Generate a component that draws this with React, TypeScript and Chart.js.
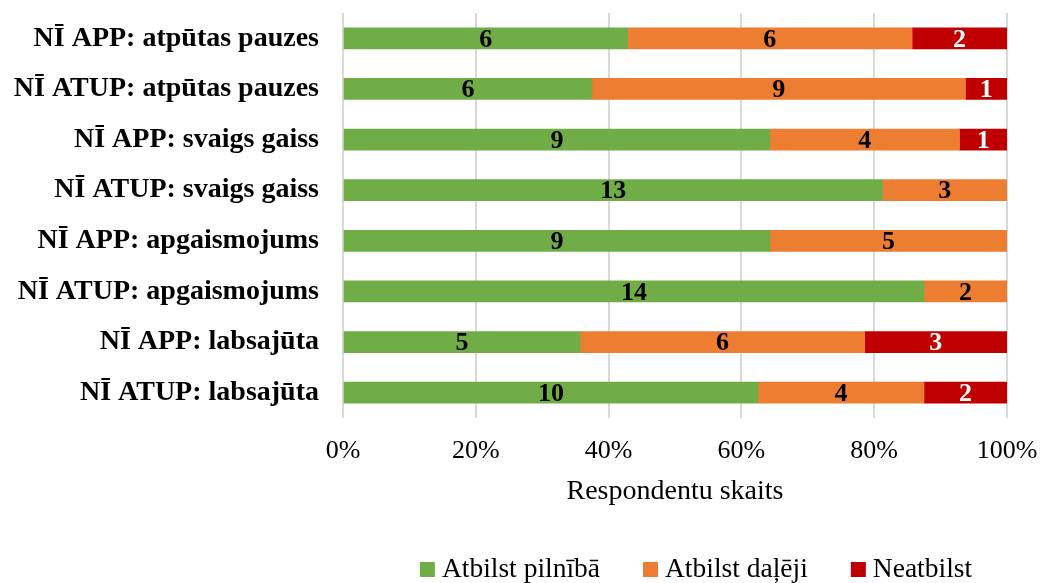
import React, { useEffect, useRef } from "react";
import { Chart, registerables } from "chart.js";

Chart.register(...registerables);

const categories = [
  "NĪ APP: atpūtas pauzes",
  "NĪ ATUP: atpūtas pauzes",
  "NĪ APP: svaigs gaiss",
  "NĪ ATUP: svaigs gaiss",
  "NĪ APP: apgaismojums",
  "NĪ ATUP: apgaismojums",
  "NĪ APP: labsajūta",
  "NĪ ATUP: labsajūta",
];
const fully = [6, 6, 9, 13, 9, 14, 5, 10];
const partly = [6, 9, 4, 3, 5, 2, 6, 4];
const notAtAll = [2, 1, 1, 0, 0, 0, 3, 2];
const seriesNames = ["Atbilst pilnībā", "Atbilst daļēji", "Neatbilst"];
const tickLabels = ["0%", "20%", "40%", "60%", "80%", "100%"];
const axisTitle = "Respondentu skaits";

const FONT = "'Liberation Serif', 'Times New Roman', serif";

export default function App() {
  const ref = useRef<HTMLCanvasElement>(null);
  useEffect(() => {
    const totals = categories.map((_, i) => fully[i] + partly[i] + notAtAll[i]);
    const pct = (arr: number[]) => arr.map((v, i) => (v / totals[i]) * 100);
    const raw = [fully, partly, notAtAll];
    const colors = ["#70AD47", "#ED7D31", "#C00000"];
    const labelColors = ["#000000", "#000000", "#FFFFFF"];

    const labelPlugin = {
      id: "segLabels",
      afterDatasetsDraw(chart: any) {
        const ctx = chart.ctx;
        ctx.save();
        ctx.font = `bold 26px ${FONT}`;
        ctx.textAlign = "center";
        ctx.textBaseline = "middle";
        chart.data.datasets.forEach((ds: any, di: number) => {
          const meta = chart.getDatasetMeta(di);
          meta.data.forEach((bar: any, i: number) => {
            const v = raw[di][i];
            if (!v) return;
            const x = (bar.x + bar.base) / 2;
            ctx.fillStyle = labelColors[di];
            ctx.fillText(String(v), x, bar.y + 1.5);
          });
        });
        ctx.restore();
      },
    };

    const extrasPlugin = {
      id: "titleLegend",
      afterDraw(chart: any) {
        const ctx = chart.ctx;
        const area = chart.chartArea;
        ctx.save();
        ctx.font = `28px ${FONT}`;
        ctx.fillStyle = "#000";
        ctx.textAlign = "center";
        ctx.textBaseline = "middle";
        ctx.fillText(axisTitle, (area.left + area.right) / 2, 492);
        ctx.font = `27.5px ${FONT}`;
        const box = 15, gap = 7, spacing = 43;
        const items = chart.data.datasets.map((d: any) => ({
          label: d.label,
          color: d.backgroundColor,
          w: ctx.measureText(d.label).width,
        }));
        let total = 0;
        items.forEach((it: any, i: number) => {
          total += box + gap + it.w + (i < items.length - 1 ? spacing : 0);
        });
        let x = 696 - total / 2;
        const cy = 569.5;
        ctx.textAlign = "left";
        items.forEach((it: any) => {
          ctx.fillStyle = it.color;
          ctx.fillRect(x, cy - box / 2, box, box);
          x += box + gap;
          ctx.fillStyle = "#000";
          ctx.fillText(it.label, x, cy);
          x += it.w + spacing;
        });
        ctx.restore();
      },
    };

    const chart = new Chart(ref.current!, {
      type: "bar",
      data: {
        labels: categories,
        datasets: raw.map((_, di) => ({
          label: seriesNames[di],
          data: pct(raw[di]),
          backgroundColor: colors[di],
          borderWidth: 0,
          barThickness: 21,
        })),
      },
      options: {
        indexAxis: "y",
        animation: false,
        responsive: false,
        layout: { padding: { left: 0, right: 33, top: 13, bottom: 0 } },
        plugins: {
          legend: { display: false },
          tooltip: { enabled: false },
        },
        scales: {
          x: {
            stacked: true,
            min: 0,
            max: 100,
            ticks: {
              stepSize: 20,
              color: "#000",
              font: { family: FONT, size: 26 },
              padding: 18,
              maxRotation: 0,
              callback: (_v: any, idx: number) => tickLabels[idx],
            },
            grid: { color: "#D9D9D9", lineWidth: 2, drawTicks: false },
            border: { display: false },
            afterFit: (scale: any) => {
              scale.height = 165;
              scale.paddingLeft = 0;
              scale.paddingRight = 0;
            },
          },
          y: {
            stacked: true,
            ticks: {
              color: "#000",
              font: { family: FONT, size: 28, weight: "bold" },
              padding: 24,
            },
            grid: { display: false, drawTicks: false },
            border: { display: false },
            afterFit: (scale: any) => {
              scale.width = 343;
              scale.paddingTop = 0;
              scale.paddingBottom = 0;
            },
          },
        },
      },
      plugins: [labelPlugin, extrasPlugin],
    } as any);
    return () => chart.destroy();
  }, []);
  return (
    <div style={{ position: "fixed", left: 0, top: 0, width: 1040, height: 583, background: "#fff" }}>
      <canvas ref={ref} width={1040} height={583} />
    </div>
  );
}
